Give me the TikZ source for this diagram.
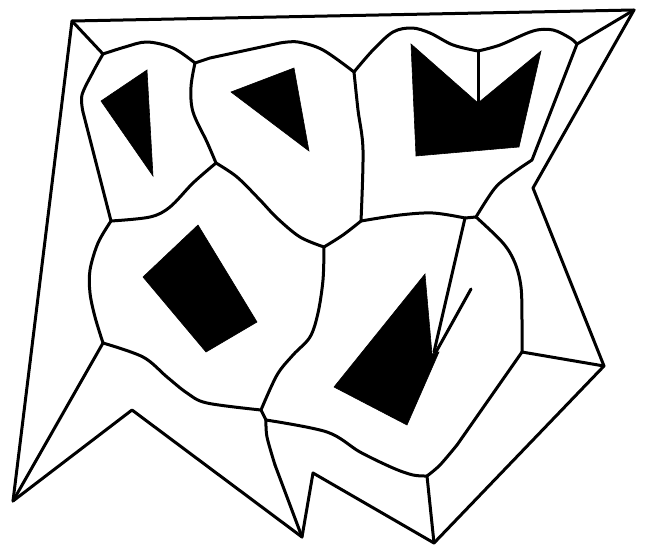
\documentclass[tikz,border=0pt]{standalone}
\tikzset{
  wall/.style={draw=black,line width=3pt,line join=round,line cap=round},
  curveline/.style={wall,smooth,tension=0.55},
  hole/.style={fill=black,draw=black,line width=0.6pt,line join=miter}
}
\begin{document}
\begin{tikzpicture}[x=1pt,y=-1pt]
\useasboundingbox (0,0) rectangle (645,546);
% outer boundary vertices
\coordinate (TL) at (72,21);
\coordinate (TR) at (634,10);
\coordinate (RN) at (533,188);
\coordinate (RP) at (604,366);
\coordinate (BB) at (434,543);
\coordinate (BN) at (313,473);
\coordinate (BL) at (302,537);
\coordinate (LN) at (132,410);
\coordinate (LP) at (13,501);
% skeleton vertices
\coordinate (a) at (103,54);
\coordinate (b) at (195,63);
\coordinate (c) at (111,221);
\coordinate (d) at (216,163);
\coordinate (e) at (354,72);
\coordinate (f) at (324,247);
\coordinate (g) at (361,221);
\coordinate (h) at (478,51);
\coordinate (i) at (577,44);
\coordinate (j) at (532,160);
\coordinate (k) at (476,217);
\coordinate (l) at (465,218);
\coordinate (m) at (522,352);
\coordinate (n) at (427,476);
\coordinate (o) at (266,420);
\coordinate (p) at (261,410);
\coordinate (q) at (103,343);
% outer boundary
\draw[wall] (TL) -- (TR) -- (RN) -- (RP) -- (BB) -- (BN) -- (BL) -- (LN) -- (LP) -- cycle;
% spokes
\draw[wall] (TL) -- (a);
\draw[wall] (TR) -- (i);
\draw[wall] (RP) -- (m);
\draw[wall] (BB) -- (n);
\draw[wall] (LP) -- (q);
\draw[wall] (p) -- (o);
\draw[wall] (l) -- (k);
% skeleton curves
\draw[curveline] plot coordinates {(a) (125,47) (147,42) (173,48) (b)};
\draw[curveline] plot coordinates {(a) (93,72) (82,95) (83,112)};
\draw[wall] (83,112) -- (c);
\draw[curveline] plot coordinates {(c) (150,217) (170,207) (193,183) (d)};
\draw[curveline] plot coordinates {(b) (191,87) (193,112) (207,142) (d)};
\draw[wall] (b) -- (210,58) -- (280,43);
\draw[curveline] plot coordinates {(280,43) (298,42) (323,50) (e)};
\draw[curveline] plot coordinates {(d) (237,177) (260,200) (277,218) (300,237) (f)};
\draw[curveline] plot coordinates {(e) (358,110) (363,150) (g)};
\draw[curveline] plot coordinates {(f) (343,235) (g)};
\draw[curveline] plot coordinates {(e) (373,50) (393,32) (412,28) (430,33) (453,45) (h)};
\draw[curveline] plot coordinates {(h) (500,45) (533,31) (553,30) (570,38) (i)};
\draw[wall] (h) -- (478,103);
\draw[wall] (i) -- (j);
\draw[curveline] plot coordinates {(j) (513,173) (495,188) (k)};
\draw[curveline] plot coordinates {(g) (400,215) (433,213) (l)};
\draw[wall] (l) -- (434,352);
\draw[curveline] plot coordinates {(k) (503,243) (515,263) (521,287) (522,320) (m)};
\draw[wall] (m) -- (457,445);
\draw[curveline] plot coordinates {(457,445) (440,465) (n)};
\draw[curveline] plot coordinates {(n) (413,475) (393,468) (360,452) (327,432) (o)};
\draw[curveline] plot coordinates {(p) (277,375) (293,355) (310,337) (318,313) (323,280) (f)};
\draw[curveline] plot coordinates {(p) (207,403) (187,393) (167,377) (143,357) (q)};
\draw[curveline] plot coordinates {(q) (95,317) (90,293) (90,270) (98,243) (c)};
\draw[curveline] plot coordinates {(o) (267,437) (275,465)};
\draw[wall] (275,465) -- (BL);
% holes
\fill[hole] (147,70) -- (101,101) -- (153,176) -- cycle;
\fill[hole] (294,68) -- (231,92) -- (309,151) -- cycle;
\fill[hole] (411,44) -- (478,103) -- (541,51) -- (519,147) -- (416,156) -- cycle;
\fill[hole] (198,225) -- (143,277) -- (206,352) -- (257,322) -- cycle;
\fill[hole] (425,274) -- (432,354) -- (439,352) -- (407,425) -- (334,387) -- cycle;
\draw[wall] (436,352) -- (471,289);
\end{tikzpicture}
\end{document}
